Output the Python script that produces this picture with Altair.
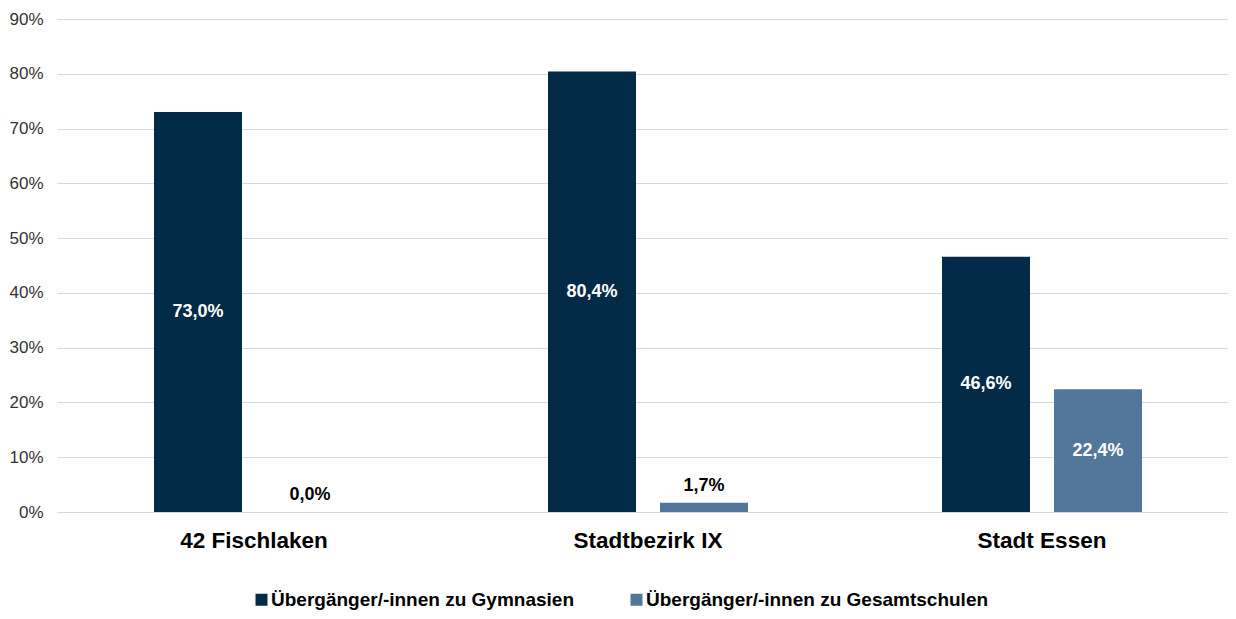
import altair as alt
import pandas as pd

categories = ["42 Fischlaken", "Stadtbezirk IX", "Stadt Essen"]
series = ["Übergänger/-innen zu Gymnasien", "Übergänger/-innen zu Gesamtschulen"]
gymnasien = [73.0, 80.4, 46.6]
gesamtschulen = [0.0, 1.7, 22.4]
y_ticks = [0, 10, 20, 30, 40, 50, 60, 70, 80, 90]
colors = ["#032B48", "#52779A"]

rows = []
for i, c in enumerate(categories):
    rows.append({"Gebiet": c, "Reihe": series[0], "Wert": gymnasien[i]})
    rows.append({"Gebiet": c, "Reihe": series[1], "Wert": gesamtschulen[i]})
df = pd.DataFrame(rows)

FONT = "Liberation Sans"

x_enc = alt.X(
    "Gebiet:N",
    sort=categories,
    scale=alt.Scale(paddingInner=0, paddingOuter=0),
    axis=alt.Axis(
        title=None, labelAngle=0, labelFontSize=22.5, labelFontWeight="bold",
        labelColor="#000000", labelPadding=17, ticks=False, domain=False,
        labelFont=FONT,
    ),
)
xo_enc = alt.XOffset(
    "Reihe:N", sort=series,
    scale=alt.Scale(paddingInner=0.2143, paddingOuter=0.866),
)
y_scale = alt.Scale(domain=[0, 90], nice=False)
y_axis = alt.Axis(
    values=y_ticks, labelExpr="datum.value + '%'", title=None,
    labelFontSize=17, labelColor="#333333", labelFont=FONT, labelPadding=14,
    ticks=False, domain=False, grid=True, gridColor="#d9d9d9", gridWidth=1,
)

base = alt.Chart(df)

bars = base.mark_bar().encode(
    x=x_enc,
    xOffset=xo_enc,
    y=alt.Y("Wert:Q", scale=y_scale, axis=y_axis),
    color=alt.Color(
        "Reihe:N", sort=series,
        scale=alt.Scale(domain=series, range=colors),
        legend=alt.Legend(
            title=None, orient="none", direction="horizontal",
            legendX=195, legendY=571, symbolType="square", symbolSize=144,
            symbolStrokeWidth=0, labelFontSize=19, labelFontWeight="bold",
            labelFont=FONT, labelColor="#000000", labelOffset=0,
            labelLimit=0, columnPadding=53, padding=0,
        ),
    ),
)

label_expr = "replace(format(datum.Wert, '.1f'), '.', ',') + '%'"

inside = base.transform_filter("datum.Wert >= 5").transform_calculate(
    label=label_expr, mid="datum.Wert / 2"
).mark_text(
    color="white", fontSize=18, fontWeight="bold", font=FONT, baseline="middle"
).encode(
    x=x_enc, xOffset=xo_enc,
    y=alt.Y("mid:Q", scale=y_scale, axis=y_axis),
    text="label:N",
)

outside = base.transform_filter("datum.Wert < 5").transform_calculate(
    label=label_expr
).mark_text(
    color="#000000", fontSize=18, fontWeight="bold", font=FONT,
    baseline="bottom", dy=-8,
).encode(
    x=x_enc, xOffset=xo_enc,
    y=alt.Y("Wert:Q", scale=y_scale, axis=y_axis),
    text="label:N",
)

chart = alt.layer(bars, inside, outside).properties(
    width=1182, height=493,
    autosize="none",
    padding={"left": 49, "top": 11, "right": -11, "bottom": 99},
    background="white",
).configure_view(stroke=None)

chart.save("out.html", embed_options={"renderer": "svg", "actions": False})
